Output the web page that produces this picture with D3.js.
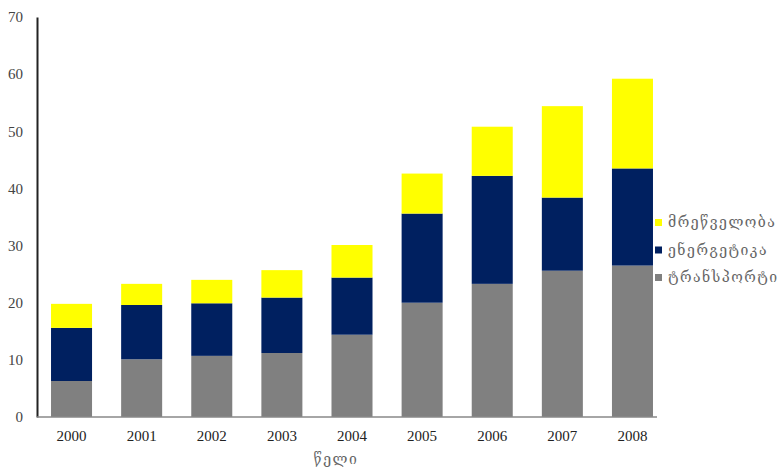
<!DOCTYPE html>
<html>
<head>
<meta charset="utf-8">
<script src="https://cdn.jsdelivr.net/npm/d3@7"></script>
<style>
  html, body { margin: 0; padding: 0; background: #fff; }
  svg { display: block; }
  .num { font-family: "Liberation Serif", "Times New Roman", serif; }
  .geo { font-family: "DejaVu Serif", "DejaVu Sans", serif; letter-spacing: 1.5px; }
</style>
</head>
<body>
<svg id="chart" width="781" height="472"></svg>
<script>
// Years on the horizontal axis
const years = ["2000", "2001", "2002", "2003", "2004", "2005", "2006", "2007", "2008"];
// Stacked series, bottom to top
const transport = [6.3, 10.1, 10.7, 11.2, 14.4, 20.0, 23.3, 25.6, 26.5];
const energy    = [9.3, 9.5, 9.2, 9.7, 10.0, 15.6, 18.9, 12.8, 17.0];
const industry  = [4.2, 3.7, 4.1, 4.8, 5.7, 7.0, 8.6, 16.0, 15.7];
const seriesNames = ["ტრანსპორტი", "ენერგეტიკა", "მრეწველობა"];
const yTicks = [0, 10, 20, 30, 40, 50, 60, 70];
const xTitle = "წელი";

const colors = { "ტრანსპორტი": "#808080", "ენერგეტიკა": "#002060", "მრეწველობა": "#ffff00" };

const rows = years.map((yr, i) => ({
  year: yr,
  "ტრანსპორტი": transport[i],
  "ენერგეტიკა": energy[i],
  "მრეწველობა": industry[i]
}));

const svg = d3.select("#chart");
const plotLeft = 37, plotRight = 667, plotTop = 17, plotBottom = 417;

const x = d3.scaleBand().domain(years).range([plotLeft, plotRight]).paddingInner(0.415).paddingOuter(0.2);
const y = d3.scaleLinear().domain([0, 70]).range([plotBottom, plotTop]);

const stacked = d3.stack().keys(seriesNames)(rows);

svg.append("g").selectAll("g")
  .data(stacked)
  .join("g")
  .attr("fill", d => colors[d.key])
  .selectAll("rect")
  .data(d => d)
  .join("rect")
  .attr("x", d => x(d.data.year))
  .attr("width", x.bandwidth())
  .attr("y", d => y(d[1]))
  .attr("height", d => y(d[0]) - y(d[1]));

// Y axis: labels only, with a heavy vertical rule
const yAxis = svg.append("g")
  .attr("transform", `translate(${plotLeft},0)`)
  .call(d3.axisLeft(y).tickValues(yTicks).tickSize(0).tickPadding(14));
yAxis.attr("font-family", null).attr("font-size", null);
yAxis.select(".domain").attr("stroke", "#222").attr("stroke-width", 2);
yAxis.selectAll("text")
  .attr("class", "num")
  .style("font-size", "15px")
  .attr("fill", "#444");

// X axis
const xAxis = svg.append("g")
  .attr("transform", `translate(0,${plotBottom})`)
  .call(d3.axisBottom(x).tickSize(0).tickPadding(13));
xAxis.attr("font-family", null).attr("font-size", null);
xAxis.select(".domain").attr("d", `M${plotLeft},0H657`).attr("stroke", "#888").attr("stroke-width", 1.5);
xAxis.selectAll("text")
  .attr("class", "num")
  .style("font-size", "15px")
  .attr("fill", "#222");

svg.append("text")
  .attr("class", "geo")
  .attr("x", 336)
  .attr("y", 464)
  .attr("text-anchor", "middle")
  .style("font-size", "14px")
  .attr("fill", "#666")
  .text(xTitle);

// Legend, top entry is the top of the stack
const legendOrder = seriesNames.slice().reverse();
const legend = svg.append("g").attr("transform", "translate(655,223)");
legendOrder.forEach((name, i) => {
  const g = legend.append("g").attr("transform", `translate(0,${i * 27.5})`);
  g.append("rect").attr("x", 0).attr("y", -4).attr("width", 7).attr("height", 7).attr("fill", colors[name]);
  g.append("text")
    .attr("class", "geo")
    .attr("x", 13)
    .attr("y", 4)
    .style("font-size", "14px")
    .attr("fill", "#666")
    .text(name);
});
</script>
</body>
</html>
